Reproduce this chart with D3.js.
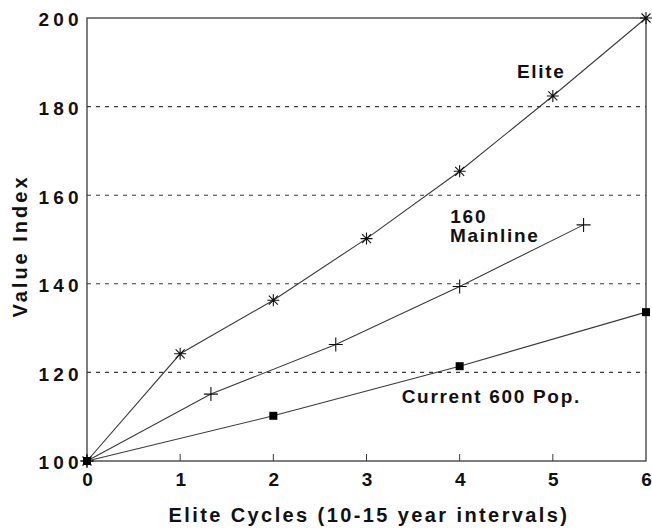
<!DOCTYPE html>
<html>
<head>
<meta charset="utf-8">
<script src="https://cdn.jsdelivr.net/npm/d3@7"></script>
<style>
  body { margin: 0; background: #fff; }
  text { font-family: "Liberation Sans", Arial, sans-serif; font-weight: bold; fill: #111; }
</style>
</head>
<body>
<svg id="chart"></svg>
<script>
var width = 652, height = 531;
var margin = { top: 18, right: 6, bottom: 70, left: 87 };

// data
var eliteX = [0, 1, 2, 3, 4, 5, 6];
var eliteY = [100, 124.2, 136.3, 150.2, 165.4, 182.4, 200];
var mainlineX = [0, 1.33, 2.67, 4, 5.33];
var mainlineY = [100, 115.1, 126.3, 139.4, 153.3];
var currentX = [0, 2, 4, 6];
var currentY = [100, 110.2, 121.4, 133.6];
var xTicks = [0, 1, 2, 3, 4, 5, 6];
var yTicks = [100, 120, 140, 160, 180, 200];
var gridValues = [120, 140, 160, 180];

var svg = d3.select("#chart").attr("width", width).attr("height", height);
var g = svg.append("g").attr("transform", "translate(" + margin.left + "," + margin.top + ")");
var w = width - margin.left - margin.right;
var h = height - margin.top - margin.bottom;

var x = d3.scaleLinear().domain([0, 6]).range([0, w]);
var y = d3.scaleLinear().domain([100, 200]).range([h, 0]);
var ink = "#3a3a3a";

// dashed grid
g.selectAll(".grid").data(gridValues).enter().append("line")
    .attr("x1", 0).attr("x2", w)
    .attr("y1", function (d) { return y(d); }).attr("y2", function (d) { return y(d); })
    .attr("stroke", ink).attr("stroke-width", 1.1).attr("stroke-dasharray", "4,5");

// frame
g.append("rect").attr("x", 0).attr("y", 0).attr("width", w).attr("height", h)
    .attr("fill", "none").attr("stroke", ink).attr("stroke-width", 1.3);

// x axis
var xAxis = g.append("g").attr("transform", "translate(0," + h + ")")
    .call(d3.axisBottom(x).tickValues(xTicks).tickSize(0).tickPadding(12).tickFormat(d3.format("d")));
xAxis.select(".domain").remove();
xAxis.selectAll("text").style("font-size", "19px").style("letter-spacing", "4px")
    .attr("dx", "2px").attr("dy", "0.71em").attr("fill", "#111");
g.selectAll(".xtick").data(xTicks.slice(1, -1)).enter().append("line")
    .attr("x1", function (d) { return x(d); }).attr("x2", function (d) { return x(d); })
    .attr("y1", h).attr("y2", h - 7).attr("stroke", ink);

// y axis
var yAxis = g.append("g")
    .call(d3.axisLeft(y).tickValues(yTicks).tickSize(0).tickPadding(4).tickFormat(d3.format("d")));
yAxis.select(".domain").remove();
yAxis.selectAll("text").style("font-size", "19px").style("letter-spacing", "4.3px")
    .attr("dy", "0.42em").attr("fill", "#111");

// axis titles
svg.append("text").attr("x", 369).attr("y", 522)
    .attr("text-anchor", "middle").style("font-size", "20px").style("letter-spacing", "2.4px")
    .text("Elite Cycles (10-15 year intervals)");
svg.append("text").attr("transform", "translate(27,246) rotate(-90)")
    .attr("text-anchor", "middle").style("font-size", "20px").style("letter-spacing", "3px")
    .text("Value Index");

function toPoints(xs, ys) {
    return xs.map(function (d, i) { return [d, ys[i]]; });
}

var line = d3.line().x(function (d) { return x(d[0]); }).y(function (d) { return y(d[1]); });

var series = [
    { name: "elite", pts: toPoints(eliteX, eliteY), marker: "star" },
    { name: "mainline", pts: toPoints(mainlineX, mainlineY), marker: "plus" },
    { name: "current", pts: toPoints(currentX, currentY), marker: "square" }
];

series.forEach(function (s) {
    g.append("path").datum(s.pts).attr("d", line)
        .attr("fill", "none").attr("stroke", ink).attr("stroke-width", 1.1);

    var m = g.selectAll(".m-" + s.name).data(s.pts).enter().append("g")
        .attr("transform", function (d) { return "translate(" + x(d[0]) + "," + y(d[1]) + ")"; });

    if (s.marker === "star") {
        m.append("path").attr("d", "M-6,0H6M0,-6V6M-4.5,-4.5L4.5,4.5M-4.5,4.5L4.5,-4.5")
            .attr("stroke", "#111").attr("stroke-width", 1.1);
    } else if (s.marker === "plus") {
        m.append("path").attr("d", "M-7,0H7M0,-7V7")
            .attr("stroke", "#111").attr("stroke-width", 1.1);
    } else {
        m.append("rect").attr("x", -4).attr("y", -4).attr("width", 8).attr("height", 8)
            .attr("fill", "#000");
    }
});

// series labels
function label(tx, ty, str) {
    g.append("text").attr("x", x(tx)).attr("y", y(ty))
        .style("font-size", "19px").style("letter-spacing", "1.7px").text(str);
}
label(4.615, 186.45, "Elite");
label(3.9, 153.7, "160");
label(3.896, 149.5, "Mainline");
label(3.378, 113.1, "Current 600 Pop.");
</script>
</body>
</html>
